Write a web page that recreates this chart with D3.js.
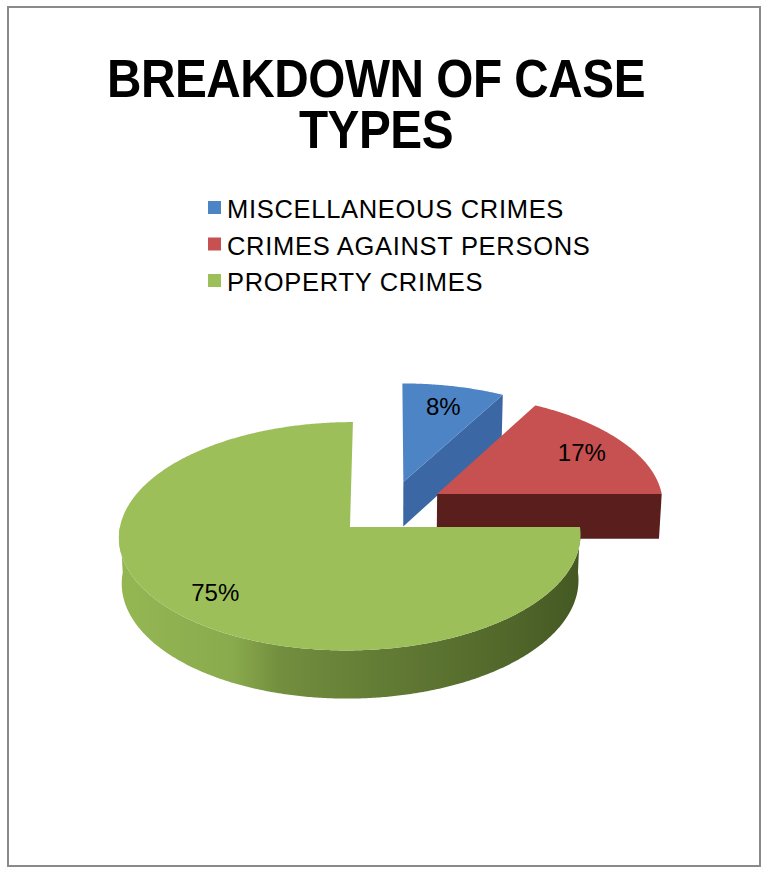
<!DOCTYPE html>
<html>
<head>
<meta charset="utf-8">
<script src="https://cdn.jsdelivr.net/npm/d3@7/dist/d3.min.js"></script>
<style>
  html, body { margin: 0; padding: 0; background: #ffffff; }
  svg { display: block; }
  text { font-family: "Liberation Sans", Arial, Helvetica, sans-serif; fill: #000; }
</style>
</head>
<body>
<svg id="chart" width="765" height="871"></svg>
<script>
// Case type breakdown (percent of all cases)
const categories = ["MISCELLANEOUS CRIMES", "CRIMES AGAINST PERSONS", "PROPERTY CRIMES"];
const values = [8, 17, 75];
const titleLines = ["BREAKDOWN OF CASE", "TYPES"];

// Face colours: top face, radial cut face, outer rim (start, end of the shading ramp)
const topColors = ["#4d84c6", "#c65150", "#9dbf5a"];
const cutColors = ["#3b68a4", "#5a1f1d", "#4d6527"];
const rimColors = [["#3b68a4", "#2f5486"], ["#8a2f2c", "#5a1f1d"], ["#93b552", "#3c4e1e"]];

const W = 765, H = 871;
const svg = d3.select("#chart");

// frame around the chart area
svg.append("rect")
  .attr("x", 8).attr("y", 7).attr("width", 752).attr("height", 859)
  .attr("fill", "#ffffff").attr("stroke", "#8a8a8a").attr("stroke-width", 2);

// ---- title (bold, slightly condensed) ----
const titleX = 376;
const title = svg.append("g")
  .attr("transform", `translate(${titleX},0) scale(0.9,1)`)
  .append("text")
  .attr("text-anchor", "middle")
  .style("font-size", "53px").style("font-weight", "bold")
  .style("letter-spacing", "-0.5px");
titleLines.forEach((t, i) => {
  title.append("tspan").attr("x", 0).attr("y", 97 + i * 51).text(t);
});

// ---- legend ----
const legendY = d3.scalePoint().domain(categories).range([218, 291]);
const legend = svg.append("g");
categories.forEach((c, i) => {
  const y = legendY(c);
  legend.append("rect")
    .attr("x", 208).attr("y", y - 17).attr("width", 13).attr("height", 13)
    .attr("fill", topColors[i]);
  legend.append("text")
    .attr("x", 227).attr("y", y)
    .style("font-size", "25.5px").style("letter-spacing", "0.7px")
    .text(c);
});

// ---- 3D exploded pie ----
// Disk of unit radius in the X/Z plane (Z points away from the viewer), Y up.
const view = {
  cx: 389.8, cy: 507.6,     // screen position of the pie's axis
  scale: 226.8,             // pixels per unit radius at the axis
  tilt: 29.1 * Math.PI / 180,
  persp: 0.0916,            // perspective strength
  depth: 0.23,              // slab thickness
  explode: 0.245            // outward shift of every slice
};
const ct = Math.cos(view.tilt), st = Math.sin(view.tilt);

function project(X, Y, Z) {
  const zv = Z * ct - Y * st;
  const yv = Y * ct + Z * st;
  const w = 1 + view.persp * zv;
  return [view.cx + view.scale * X / w, view.cy - view.scale * yv / w];
}

const pie = d3.pie().sort(null).startAngle(0).endAngle(2 * Math.PI);
const arcs = pie(values).map((d, i) => {
  const mid = (d.startAngle + d.endAngle) / 2;
  return {
    ...d, i, mid,
    ox: view.explode * Math.sin(mid),
    oz: view.explode * Math.cos(mid)
  };
});

const line = d3.line();
const step = Math.PI / 360;

function rimPoints(a, b, s, Y) {
  const pts = [];
  const n = Math.max(1, Math.ceil((b - a) / step));
  for (let k = 0; k <= n; k++) {
    const t = a + (b - a) * k / n;
    pts.push(project(s.ox + Math.sin(t), Y, s.oz + Math.cos(t)));
  }
  return pts;
}

// gradient for the outer rims (shaded from lit left to dark right)
const defs = svg.append("defs");
const leftX = project(-1, 0, 0)[0], rightX = project(1, 0, 0)[0];
arcs.forEach(s => {
  const g = defs.append("linearGradient")
    .attr("id", "rim" + s.i)
    .attr("gradientUnits", "userSpaceOnUse")
    .attr("x1", leftX - 30).attr("x2", rightX + 10).attr("y1", 0).attr("y2", 0);
  const [c0, c1] = rimColors[s.i];
  const ramp = d3.interpolateRgb(c0, c1);
  [[0, 0], [0.2, 0.1], [0.3, 0.38], [0.5, 0.55], [0.75, 0.75], [1, 1]].forEach(([o, t]) => {
    g.append("stop").attr("offset", o).attr("stop-color", ramp(t));
  });
});

// paint back slices first
const order = arcs.slice().sort((a, b) => b.oz - a.oz);
const pieG = svg.append("g");
const h = view.depth;

order.forEach(s => {
  const g = pieG.append("g");
  const a0 = s.startAngle, a1 = s.endAngle;

  // outer rim facing the viewer (front half of the disk)
  const r0 = Math.max(a0, Math.PI / 2), r1 = Math.min(a1, 3 * Math.PI / 2);
  if (r1 > r0 + 1e-6) {
    const top = rimPoints(r0, r1, s, 0);
    const bot = rimPoints(r0, r1, s, -h).reverse();
    g.append("path").attr("d", line(top.concat(bot)) + "Z")
      .attr("fill", "url(#rim" + s.i + ")");
  }

  // radial cut faces
  const cut = (a) => {
    const pts = [
      project(s.ox, 0, s.oz),
      project(s.ox + Math.sin(a), 0, s.oz + Math.cos(a)),
      project(s.ox + Math.sin(a), -h, s.oz + Math.cos(a)),
      project(s.ox, -h, s.oz)
    ];
    g.append("path").attr("d", line(pts) + "Z").attr("fill", cutColors[s.i]);
  };
  if (Math.sin(a0) < -1e-6) cut(a0);
  if (Math.sin(a1) > 1e-6) cut(a1);

  // top face
  const topPts = [project(s.ox, 0, s.oz)].concat(rimPoints(a0, a1, s, 0));
  g.append("path").attr("d", line(topPts) + "Z").attr("fill", topColors[s.i]);
});

// percentage labels on the top faces
const labelR = 0.78;
arcs.forEach(s => {
  const [x, y] = project(s.ox + labelR * Math.sin(s.mid), 0, s.oz + labelR * Math.cos(s.mid));
  svg.append("text")
    .attr("x", x).attr("y", y).attr("dy", "0.36em")
    .attr("text-anchor", "middle")
    .style("font-size", "24px")
    .text(s.value + "%");
});
</script>
</body>
</html>
